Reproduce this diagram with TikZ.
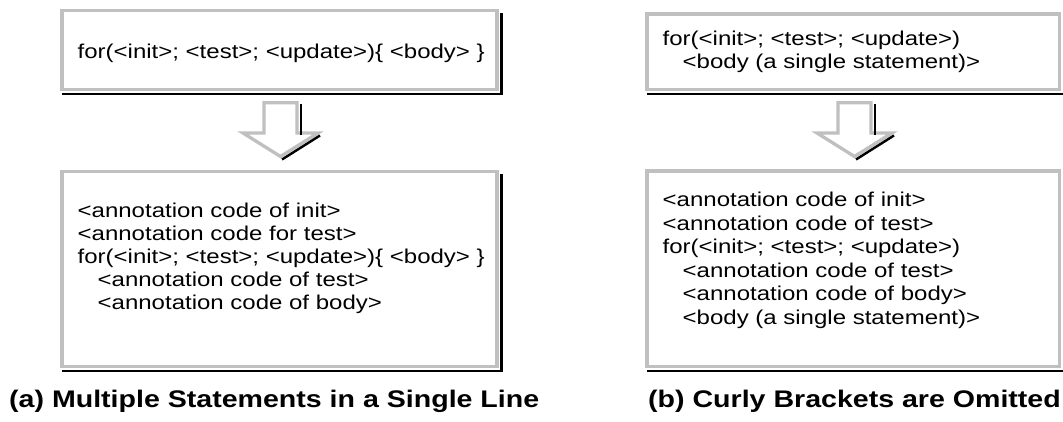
\documentclass[tikz,border=0pt]{standalone}
\usepackage{fontspec}
\usetikzlibrary{calc}
\newfontfamily\codefont[FakeStretch=1.2]{Liberation Sans}
\newfontfamily\capfont[FakeStretch=1.19]{Liberation Sans}
\definecolor{boxgray}{RGB}{192,192,192}
\tikzset{
  codebox/.style={draw=boxgray, line width=3.4, fill=white, rectangle,
    inner sep=0, outer sep=0, anchor=north west},
  shadowline/.style={draw=black, line width=2.4},
  codetext/.style={inner sep=0, anchor=base west,
    font=\codefont\fontsize{20}{23}\selectfont},
  captext/.style={inner sep=0, anchor=base west,
    font=\capfont\bfseries\fontsize{24}{28}\selectfont},
  blockarrow/.style={draw=boxgray, line width=3.3, fill=white, line join=miter},
}
\newcommand{\ind}{\hspace*{20pt}}
% hollow down arrow with its tip at the given coordinate, plus a dark edge on the right
\newcommand{\downarrowshape}[1]{%
  \path[blockarrow] ($(#1)+(-16.5,-53.8)$) -- ($(#1)+(16.5,-53.8)$)
    -- ($(#1)+(16.5,-23.5)$) -- ($(#1)+(37.5,-23.5)$) -- (#1)
    -- ($(#1)+(-37.5,-23.5)$) -- ($(#1)+(-16.5,-23.5)$) -- cycle;
  \draw[shadowline] ($(#1)+(20.5,-52.5)$) -- ($(#1)+(20.5,-21.5)$);
  \draw[shadowline] ($(#1)+(39.5,-21)$) -- ($(#1)+(1.5,3)$);
}
\begin{document}
\begin{tikzpicture}[x=1pt,y=-1pt]
\useasboundingbox (0,0) rectangle (1063,421);

% left column: boxes
\node[codebox, minimum width=435, minimum height=78.8] (boxA1) at (62,10.7) {};
\node[codebox, minimum width=435, minimum height=195.2] (boxA2) at (62,171.3) {};
% right column: boxes
\node[codebox, minimum width=412.3, minimum height=75.5] (boxB1) at (647,14) {};
\node[codebox, minimum width=412.3, minimum height=195.5] (boxB2) at (647,171) {};

% dark edges along bottom and right of each box
\foreach \b in {boxA1,boxA2,boxB1,boxB2}{
  \draw[shadowline] ($(\b.south west)+(0,4.5)$) -| ($(\b.north east)+(4.5,2.5)$);
}

% arrows between the boxes
\coordinate (tipA) at (280.5,156.5);
\coordinate (tipB) at (854.5,156.5);
\downarrowshape{tipA}
\downarrowshape{tipB}

% texts of the left column
\node[codetext] (a1) at (77.5,58) {for(<init>; <test>; <update>)\{ <body> \}};
\node[codetext] (a2l1) at (77.5,217) {<annotation code of init>};
\node[codetext] (a2l2) at (77.5,240.2) {<annotation code for test>};
\node[codetext] (a2l3) at (77.5,263.4) {for(<init>; <test>; <update>)\{ <body> \}};
\node[codetext] (a2l4) at (77.5,286.6) {\ind<annotation code of test>};
\node[codetext] (a2l5) at (77.5,309.8) {\ind<annotation code of body>};

% texts of the right column
\node[codetext] (b1l1) at (662.5,45) {for(<init>; <test>; <update>)};
\node[codetext] (b1l2) at (662.5,68.4) {\ind<body (a single statement)>};
\node[codetext] (b2l1) at (662.5,206.7) {<annotation code of init>};
\node[codetext] (b2l2) at (662.5,230.2) {<annotation code of test>};
\node[codetext] (b2l3) at (662.5,253.7) {for(<init>; <test>; <update>)};
\node[codetext] (b2l4) at (662.5,277.2) {\ind<annotation code of test>};
\node[codetext] (b2l5) at (662.5,300.7) {\ind<annotation code of body>};
\node[codetext] (b2l6) at (662.5,324.2) {\ind<body (a single statement)>};

% captions
\node[captext] (capA) at (9,407) {(a) Multiple Statements in a Single Line};
\node[captext] (capB) at (648,407) {(b) Curly Brackets are Omitted};
\end{tikzpicture}
\end{document}
